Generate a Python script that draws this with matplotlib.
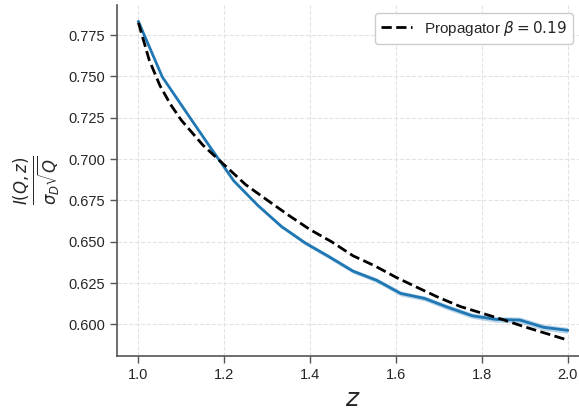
import matplotlib
matplotlib.use("Agg")
import matplotlib.pyplot as plt
import numpy as np

# measured curve (mean and spread), z on a 1/18 grid
z_meas = [1.0, 1.0556, 1.1111, 1.1667, 1.2222, 1.2778, 1.3333, 1.3889, 1.4444, 1.5,
          1.5556, 1.6111, 1.6667, 1.7222, 1.7778, 1.8333, 1.8889, 1.9444, 2.0]
i_meas = [0.7832, 0.7497, 0.7285, 0.7074, 0.6868, 0.6721, 0.6592, 0.6492, 0.6409, 0.6322,
          0.6266, 0.6187, 0.6157, 0.6102, 0.6052, 0.6030, 0.6026, 0.5982, 0.5964]
i_err = [0.0004, 0.0006, 0.0007, 0.0008, 0.0009, 0.0010, 0.0011, 0.0012, 0.0013, 0.0013,
         0.0014, 0.0015, 0.0015, 0.0016, 0.0016, 0.0017, 0.0018, 0.0018, 0.0018]

# propagator prediction
z_prop = [1.0, 1.025, 1.05, 1.075, 1.1, 1.15, 1.2, 1.25, 1.3, 1.35, 1.4, 1.45, 1.5,
          1.55, 1.6, 1.65, 1.7, 1.75, 1.8, 1.85, 1.9, 1.95, 2.0]
i_prop = [0.7825, 0.7600, 0.7445, 0.7330, 0.7235, 0.7085, 0.6965, 0.6845, 0.6752, 0.6660,
          0.6573, 0.6500, 0.6415, 0.6355, 0.6285, 0.6223, 0.6162, 0.6108, 0.6068, 0.6028,
          0.5985, 0.5945, 0.5905]
beta = 0.19

plt.rcParams["font.family"] = ["Liberation Sans", "DejaVu Sans"]
plt.rcParams["mathtext.fontset"] = "dejavusans"

fig = plt.figure(figsize=(5.79, 4.11), dpi=100)
ax = fig.add_axes([117 / 579, 55 / 411, 472 / 579, 351 / 411])

lo = np.array(i_meas) - np.array(i_err)
hi = np.array(i_meas) + np.array(i_err)
ax.fill_between(z_meas, lo, hi, color="#1f77b4", alpha=0.3, lw=0)
ax.plot(z_meas, i_meas, color="#1f77b4", lw=2)
ax.plot(z_prop, i_prop, "k--", lw=2, label=r"Propagator $\beta = %.2f$" % beta)

ax.set_xlim(0.95, 2.05)
ax.set_xticks([1.0, 1.2, 1.4, 1.6, 1.8, 2.0])
ax.set_yticks([0.600, 0.625, 0.650, 0.675, 0.700, 0.725, 0.750, 0.775])
ax.grid(True, ls="--", color="#e3e3e3", lw=0.8)
ax.set_axisbelow(True)

for s in ["top", "right"]:
    ax.spines[s].set_visible(False)
for s in ["left", "bottom"]:
    ax.spines[s].set_color("#555555")
    ax.spines[s].set_linewidth(1.2)
ax.tick_params(colors="#555555", labelcolor="#262626", labelsize=10.5, length=5, width=1)

ax.set_xlabel(r"$z$", fontsize=18, color="#262626")
ax.set_ylabel(r"$\frac{I(Q,z)}{\sigma_D\sqrt{Q}}$", fontsize=17, color="#262626")

ax.legend(loc="upper right", bbox_to_anchor=(573 / 579, 1 - 12.5 / 411),
          bbox_transform=fig.transFigure, borderaxespad=0, fontsize=11,
          edgecolor="#cccccc", framealpha=1, labelcolor="#262626")

fig.savefig("out.png", dpi=100)
